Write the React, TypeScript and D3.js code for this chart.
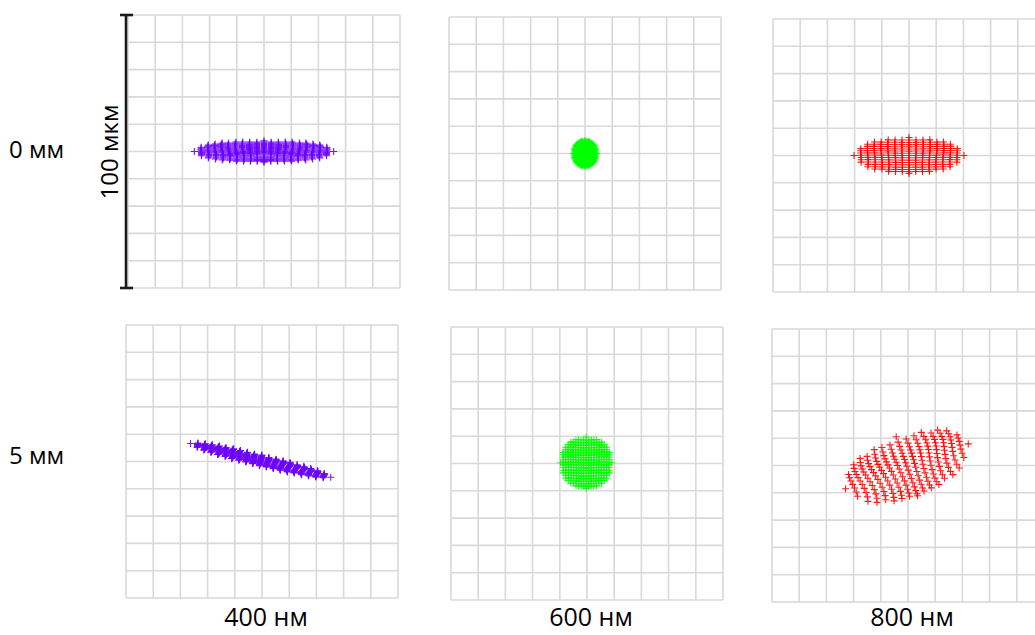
import { useRef, useEffect } from 'react';
import * as d3 from 'd3';

// rows = field position, columns = wavelength
const wavelengths = ['400 нм', '600 нм', '800 нм'];
const fields = ['0 мм', '5 мм'];
const spotColors = ['#6a00ff', '#00ff00', '#ff0000'];

// spot ellipse parameters, µm (row-major: field x wavelength)
const semiMajor = [25.6, 4.2, 20.2, 26.5, 9.4, 24.0];
const semiMinor = [3.9, 4.8, 6.6, 2.0, 9.4, 11.5];
const tiltDeg = [0, 0, 0, -13.5, 0, 20];
const centerX = [0, 0, 0, -0.5, -0.3, -0.4];
const centerY = [0, 0, 0, 0.4, 0.3, -0.3];
// residual higher-order blur (fraction of the semi-axis), seen as uneven density
const comaAmount = [0.15, 0, 0.1, 0.12, 0.1, 0.3];

// pupil sampling grids (normalised pupil coordinates)
const fineGrid = [-1, -0.9, -0.8, -0.7, -0.6, -0.5, -0.4, -0.3, -0.2, -0.1, 0, 0.1, 0.2, 0.3, 0.4, 0.5, 0.6, 0.7, 0.8, 0.9, 1];
const coarseGrid = [-1, -0.875, -0.75, -0.625, -0.5, -0.375, -0.25, -0.125, 0, 0.125, 0.25, 0.375, 0.5, 0.625, 0.75, 0.875, 1];
const gridChoice = ['fine', 'fine', 'coarse', 'fine', 'fine', 'coarse'];

const gridTicks = [-50, -40, -30, -20, -10, 0, 10, 20, 30, 40, 50];

function App() {
    const ref = useRef(null);

    useEffect(() => {
        d3.select(ref.current).selectAll('*').remove();
        const svg = d3.select(ref.current);
        const font = '"Open Sans", "Liberation Sans", sans-serif';

        const panelW = 272;
        const panelH = 273;
        const panelX = [[128, 449, 773], [126, 451, 772]];
        const panelY = [[15, 17, 19], [325, 327, 329]];

        fields.forEach((field, r) => {
            wavelengths.forEach((wl, c) => {
                const i = r * 3 + c;
                const x0 = panelX[r][c];
                const y0 = panelY[r][c];
                const x = d3.scaleLinear().domain([-50, 50]).range([x0, x0 + panelW]);
                const y = d3.scaleLinear().domain([-50, 50]).range([y0 + panelH, y0]);
                const g = svg.append('g');

                g.selectAll('.vline')
                    .data(gridTicks)
                    .enter().append('line')
                    .attr('x1', d => x(d)).attr('x2', d => x(d))
                    .attr('y1', y(-50)).attr('y2', y(50))
                    .attr('stroke', '#d9d9d9').attr('stroke-width', 1.6);
                g.selectAll('.hline')
                    .data(gridTicks)
                    .enter().append('line')
                    .attr('y1', d => y(d)).attr('y2', d => y(d))
                    .attr('x1', x(-50)).attr('x2', x(50))
                    .attr('stroke', '#d9d9d9').attr('stroke-width', 1.6);

                const grid = gridChoice[i] === 'fine' ? fineGrid : coarseGrid;
                const th = (tiltDeg[i] * Math.PI) / 180;
                const k = comaAmount[i];
                const pts = [];
                grid.forEach(u0 => {
                    grid.forEach(v0 => {
                        const rr = u0 * u0 + v0 * v0;
                        if (rr <= 1.0001) {
                            const u = u0 + k * u0 * v0 * (1 - rr);
                            const v = v0 + k * (u0 * u0 - v0 * v0) * (1 - rr);
                            const px = centerX[i] + semiMajor[i] * u * Math.cos(th) - semiMinor[i] * v * Math.sin(th);
                            const py = centerY[i] + semiMajor[i] * u * Math.sin(th) + semiMinor[i] * v * Math.cos(th);
                            pts.push([px, py]);
                        }
                    });
                });

                g.selectAll('.spot')
                    .data(pts)
                    .enter().append('path')
                    .attr('d', 'M-3.5,0H3.5M0,-3.5V3.5')
                    .attr('transform', d => `translate(${x(d[0])},${y(d[1])})`)
                    .attr('stroke', spotColors[c])
                    .attr('stroke-width', 1.1)
                    .attr('stroke-opacity', 0.9)
                    .attr('fill', 'none');

                if (r === 1) {
                    svg.append('text')
                        .attr('x', x(0) + 4)
                        .attr('y', 626)
                        .attr('text-anchor', 'middle')
                        .style('font-family', font)
                        .style('font-size', '25px')
                        .attr('fill', '#000')
                        .text(wl);
                }
            });

            svg.append('text')
                .attr('x', 9)
                .attr('y', r === 0 ? 158 : 464)
                .style('font-family', font)
                .style('font-size', '24px')
                .attr('fill', '#000')
                .text(field);
        });

        // 100 µm scale bar
        const bar = svg.append('g').attr('stroke', '#1a1a1a').attr('stroke-width', 2.6);
        bar.append('line').attr('x1', 126).attr('x2', 126).attr('y1', 15).attr('y2', 288);
        bar.append('line').attr('x1', 120).attr('x2', 133).attr('y1', 15).attr('y2', 15);
        bar.append('line').attr('x1', 120).attr('x2', 133).attr('y1', 288).attr('y2', 288);
        svg.append('text')
            .attr('transform', 'translate(118,152) rotate(-90)')
            .attr('text-anchor', 'middle')
            .style('font-family', font)
            .style('font-size', '24px')
            .attr('fill', '#000')
            .text('100 мкм');
    }, []);

    return <svg ref={ref} width={1035} height={635} style={{ position: 'absolute', left: 0, top: 0, background: '#fff' }} />;
}

export default App;
